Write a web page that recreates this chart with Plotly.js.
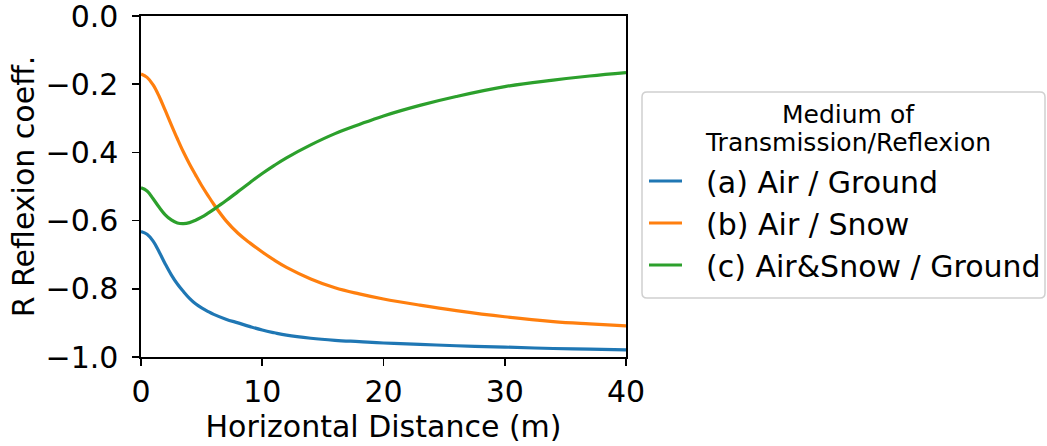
<!DOCTYPE html>
<html>
<head>
<meta charset="utf-8">
<script src="https://cdn.plot.ly/plotly-3.0.1.min.js"></script>
<style>html,body{margin:0;padding:0;background:#fff;}#chart{width:1047px;height:446px;}</style>
</head>
<body>
<div id="chart"></div>
<script>
// Horizontal distance (m)
const distance = [0, 0.5, 1, 1.5, 2, 2.5, 3, 3.5, 4, 4.5, 5, 5.5, 6, 7, 8, 9, 10, 11, 12, 14, 16, 18, 20, 23, 26, 30, 34, 37, 40];
// (a) Air / Ground
const airGround = [-0.632, -0.640, -0.660, -0.692, -0.727, -0.759, -0.786, -0.808, -0.828, -0.844, -0.856, -0.866, -0.875, -0.889, -0.900, -0.911, -0.921, -0.929, -0.936, -0.945, -0.951, -0.955, -0.959, -0.963, -0.967, -0.971, -0.975, -0.977, -0.979];
// (b) Air / Snow
const airSnow = [-0.170, -0.180, -0.202, -0.236, -0.277, -0.319, -0.360, -0.399, -0.434, -0.466, -0.497, -0.525, -0.552, -0.600, -0.637, -0.666, -0.692, -0.716, -0.737, -0.771, -0.797, -0.815, -0.830, -0.848, -0.864, -0.882, -0.896, -0.903, -0.909];
// (c) Air&Snow / Ground
const airSnowGround = [-0.504, -0.513, -0.536, -0.561, -0.583, -0.598, -0.607, -0.609, -0.606, -0.599, -0.590, -0.579, -0.567, -0.542, -0.515, -0.488, -0.462, -0.438, -0.416, -0.378, -0.345, -0.318, -0.293, -0.262, -0.236, -0.207, -0.188, -0.176, -0.166];

const seriesNames = ["(a) Air / Ground", "(b) Air / Snow", "(c) Air&Snow / Ground"];
const seriesValues = [airGround, airSnow, airSnowGround];
const seriesColors = ["#1f77b4", "#ff7f0e", "#2ca02c"];

const xTicks = [0, 10, 20, 30, 40];
const yTicks = [0, -0.2, -0.4, -0.6, -0.8, -1.0];
const legendTitleLines = ["Medium of", "Transmission/Reflexion"];

const FONT = "DejaVu Sans, sans-serif";

// figure geometry (px)
const W = 1047, H = 446;
const M = {l: 141, r: 421, t: 16, b: 89, autoexpand: false};
const PW = W - M.l - M.r, PH = H - M.t - M.b;
const px2x = p => (p - M.l) / PW;
const px2y = p => 1 - (p - M.t) / PH;

const traces = seriesValues.map((vals, i) => ({
  x: distance,
  y: vals,
  type: "scatter",
  mode: "lines",
  name: "\u00a0\u00a0" + seriesNames[i],
  line: {color: seriesColors[i], width: 3.2, shape: "spline", smoothing: 1.1}
}));

const axisCommon = {
  showgrid: false,
  zeroline: false,
  showline: true,
  linecolor: "#000",
  linewidth: 1.6,
  mirror: true,
  ticks: "outside",
  ticklen: 7,
  tickwidth: 1.6,
  tickcolor: "#000",
  ticklabeloverflow: "allow",
  automargin: false,
  tickfont: {family: FONT, size: 30, color: "#000"}
};

// rounded legend frame
function roundedRect(x0, y0, x1, y1, r) {
  const X = px2x, Y = px2y;
  return "M" + X(x0 + r) + "," + Y(y0) +
    " L" + X(x1 - r) + "," + Y(y0) +
    " Q" + X(x1) + "," + Y(y0) + " " + X(x1) + "," + Y(y0 + r) +
    " L" + X(x1) + "," + Y(y1 - r) +
    " Q" + X(x1) + "," + Y(y1) + " " + X(x1 - r) + "," + Y(y1) +
    " L" + X(x0 + r) + "," + Y(y1) +
    " Q" + X(x0) + "," + Y(y1) + " " + X(x0) + "," + Y(y1 - r) +
    " L" + X(x0) + "," + Y(y0 + r) +
    " Q" + X(x0) + "," + Y(y0) + " " + X(x0 + r) + "," + Y(y0) + " Z";
}

const layout = {
  width: W,
  height: H,
  margin: M,
  paper_bgcolor: "#fff",
  plot_bgcolor: "#fff",
  font: {family: FONT, color: "#000"},
  xaxis: Object.assign({}, axisCommon, {
    range: [0, 40],
    tickvals: xTicks,
    ticktext: xTicks.map(String),
    title: {text: "Horizontal Distance (m)", font: {family: FONT, size: 30, color: "#000"}, standoff: 6}
  }),
  yaxis: Object.assign({}, axisCommon, {
    range: [-1.0, 0.0],
    tickvals: yTicks,
    ticktext: yTicks.map(v => (v < 0 ? "\u2212" : "") + Math.abs(v).toFixed(1)),
    ticklabelstandoff: 8,
    title: {text: "R Reflexion coeff.", font: {family: FONT, size: 30, color: "#000"}, standoff: 2}
  }),
  showlegend: true,
  legend: {
    x: px2x(644),
    y: px2y(155),
    xanchor: "left",
    yanchor: "top",
    bgcolor: "rgba(0,0,0,0)",
    borderwidth: 0,
    font: {family: FONT, size: 30, color: "#000"},
    itemwidth: 33
  },
  shapes: [{
    type: "path",
    xref: "paper", yref: "paper",
    path: roundedRect(642, 92, 1045, 298, 5),
    line: {color: "#d0d0d0", width: 1.5},
    fillcolor: "rgba(255,255,255,0.8)",
    layer: "below"
  }],
  annotations: legendTitleLines.map((t, i) => ({
    text: t,
    xref: "paper", yref: "paper",
    x: px2x(848), y: px2y(115 + 27 * i),
    xanchor: "center", yanchor: "middle",
    showarrow: false,
    font: {family: FONT, size: 25, color: "#000"}
  }))
};

Plotly.newPlot("chart", traces, layout, {displayModeBar: false, staticPlot: true});
</script>
</body>
</html>
